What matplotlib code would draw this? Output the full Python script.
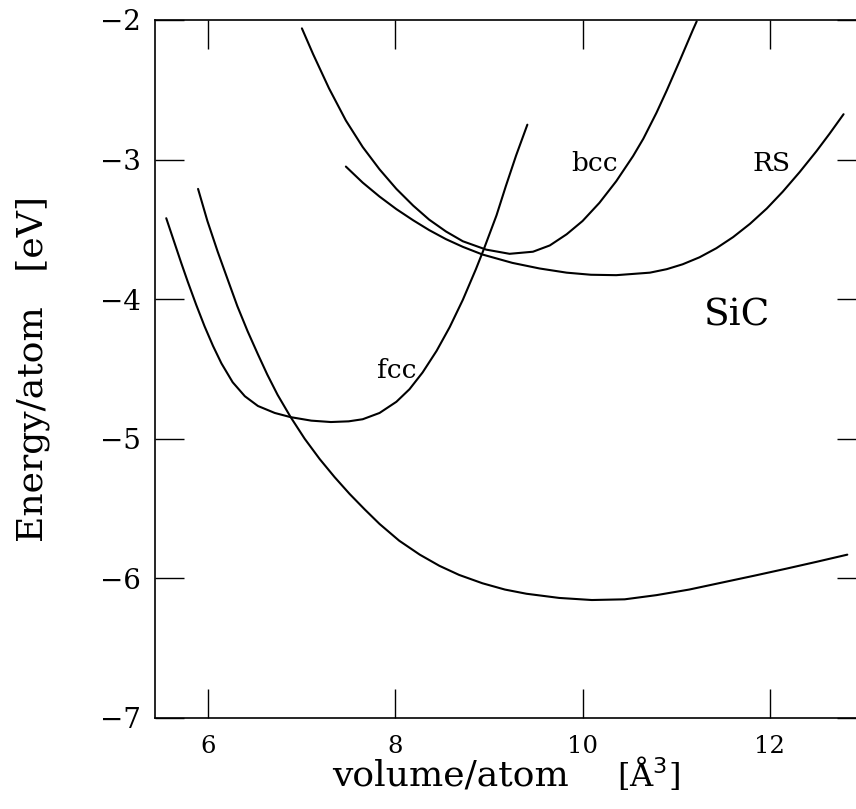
import matplotlib
matplotlib.use("Agg")
import matplotlib.pyplot as plt

# Total energy per atom versus volume per atom for SiC phases
# zinc-blende (ground state, unlabelled curve)
vol_zb = [5.89, 5.99, 6.10, 6.21, 6.31, 6.42, 6.53, 6.63, 6.74, 6.88, 7.03,
          7.19, 7.35, 7.51, 7.67, 7.83, 8.04, 8.26, 8.47, 8.68, 8.93, 9.17,
          9.40, 9.75, 10.10, 10.45, 10.79, 11.14, 11.49, 11.84, 12.18, 12.51,
          12.83]
e_zb = [-3.21, -3.44, -3.66, -3.865, -4.05, -4.23, -4.395, -4.54, -4.685,
        -4.845, -5.0, -5.145, -5.275, -5.395, -5.505, -5.61, -5.73, -5.83,
        -5.91, -5.975, -6.035, -6.08, -6.11, -6.14, -6.155, -6.15, -6.12,
        -6.08, -6.03, -5.98, -5.93, -5.88, -5.83]

vol_fcc = [5.55, 5.64, 5.71, 5.78, 5.87, 5.96, 6.05, 6.14, 6.26, 6.39, 6.53,
           6.71, 6.88, 7.10, 7.31, 7.50, 7.65, 7.83, 8.01, 8.15, 8.29, 8.44,
           8.58, 8.72, 8.86, 8.94, 9.08, 9.18, 9.29, 9.41]
e_fcc = [-3.42, -3.60, -3.74, -3.875, -4.04, -4.195, -4.335, -4.46, -4.595,
         -4.695, -4.765, -4.815, -4.845, -4.87, -4.88, -4.875, -4.86, -4.815,
         -4.735, -4.645, -4.525, -4.37, -4.20, -4.005, -3.785, -3.65, -3.40,
         -3.19, -2.97, -2.75]

vol_bcc = [7.00, 7.12, 7.29, 7.47, 7.65, 7.83, 8.01, 8.19, 8.36, 8.54, 8.72,
           8.97, 9.22, 9.47, 9.65, 9.83, 10.00, 10.18, 10.36, 10.54, 10.65,
           10.79, 10.90, 11.04, 11.18, 11.22]
e_bcc = [-2.06, -2.245, -2.49, -2.72, -2.91, -3.07, -3.21, -3.33, -3.43,
         -3.515, -3.585, -3.645, -3.675, -3.66, -3.615, -3.535, -3.44, -3.31,
         -3.155, -2.975, -2.85, -2.665, -2.505, -2.29, -2.07, -2.01]

vol_rs = [7.47, 7.65, 7.83, 8.01, 8.19, 8.36, 8.54, 8.72, 8.93, 9.25, 9.54,
          9.83, 10.09, 10.36, 10.72, 10.90, 11.07, 11.25, 11.43, 11.61, 11.79,
          11.97, 12.14, 12.32, 12.50, 12.64, 12.79]
e_rs = [-3.05, -3.165, -3.265, -3.355, -3.435, -3.505, -3.57, -3.625, -3.68,
        -3.74, -3.78, -3.81, -3.825, -3.828, -3.81, -3.785, -3.75, -3.70,
        -3.635, -3.555, -3.46, -3.35, -3.23, -3.09, -2.94, -2.815, -2.675]

x_ticks = [6, 8, 10, 12]
y_ticks = [-7, -6, -5, -4, -3, -2]

plt.rcParams["font.family"] = ["DejaVu Serif"]

fig = plt.figure(figsize=(8.56, 8.09), dpi=100)
ax = fig.add_axes([0.1811, 0.1125, 0.8306, 0.8628])

lw = 1.5
for v, e in [(vol_zb, e_zb), (vol_fcc, e_fcc), (vol_bcc, e_bcc), (vol_rs, e_rs)]:
    ax.plot(v, e, color="black", lw=lw, solid_capstyle="round",
            solid_joinstyle="round")

ax.set_xlim(5.43, 13.03)
ax.set_ylim(-7, -2)
ax.set_xticks(x_ticks)
ax.set_yticks(y_ticks)
ax.tick_params(axis="both", which="major", direction="in", length=21, width=1.0,
               top=True, right=True, color="black")
ax.tick_params(axis="x", labelsize=17.5, pad=12.5)
ax.tick_params(axis="y", labelsize=20, pad=10)
for s in ax.spines.values():
    s.set_linewidth(1.2)

# x-axis title drawn in two parts so the unit sits between the tick labels
ax.text(0.249, -0.097, "volume/atom", transform=ax.transAxes,
        fontsize=26, ha="left", va="baseline")
ax.text(0.650, -0.097, "[Å$^3$]", transform=ax.transAxes,
        fontsize=23, ha="left", va="baseline")
ax.set_ylabel("Energy/atom   [eV]", fontsize=26)
ax.yaxis.set_label_coords(-0.148, 0.5)

ax.text(8.01, -4.51, "fcc", fontsize=19, ha="center", va="center")
ax.text(10.13, -3.03, "bcc", fontsize=19, ha="center", va="center")
ax.text(12.02, -3.03, "RS", fontsize=19, ha="center", va="center")
ax.text(11.65, -4.12, "SiC", fontsize=27, ha="center", va="center")

fig.savefig("out.png", dpi=100)
